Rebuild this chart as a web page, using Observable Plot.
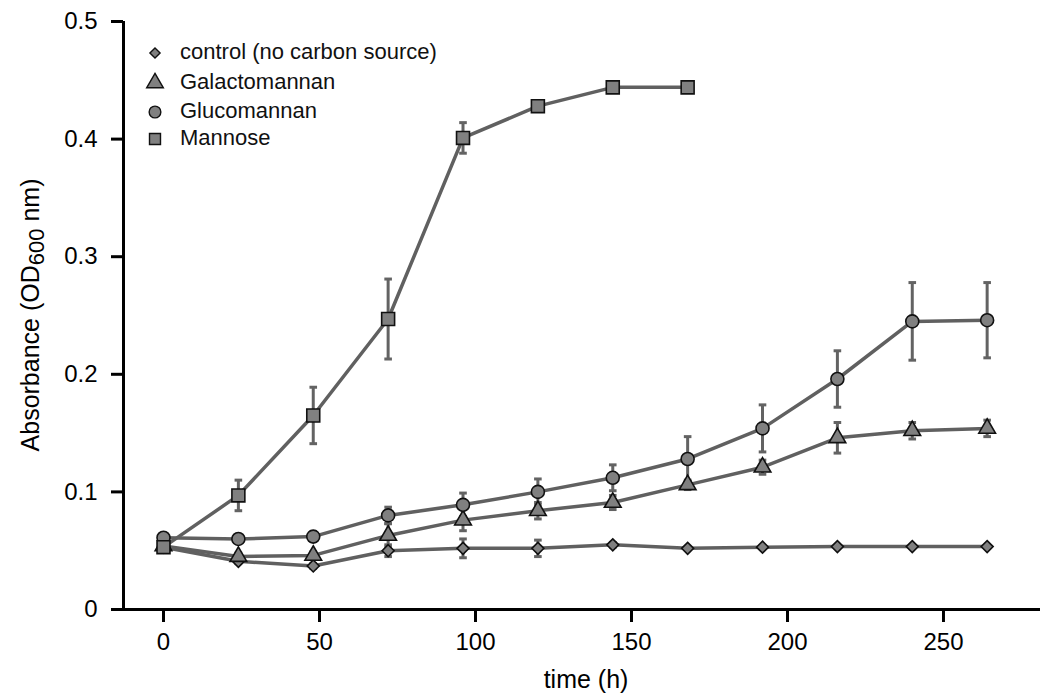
<!DOCTYPE html>
<html>
<head>
<meta charset="utf-8">
<script src="https://cdn.jsdelivr.net/npm/d3@7"></script>
<script src="https://cdn.jsdelivr.net/npm/@observablehq/plot@0.6"></script>
<style>
  html, body { margin: 0; padding: 0; background: #fff; }
  #wrap { position: relative; width: 1040px; height: 694px; font-family: "Liberation Sans", Arial, sans-serif; }
  .leg-item { position: absolute; font-size: 22px; line-height: 26px; height: 26px; color: #111; white-space: nowrap; }
  .leg-sym { position: absolute; width: 24px; height: 24px; }
</style>
</head>
<body>
<div id="wrap"></div>
<script>
// ---- data ----
const times = [0, 24, 48, 72, 96, 120, 144, 168, 192, 216, 240, 264];
const mannoseTimes = [0, 24, 48, 72, 96, 120, 144, 168];

const controlVals = [0.053, 0.041, 0.037, 0.050, 0.052, 0.052, 0.055, 0.052, 0.053, 0.0535, 0.0535, 0.0535];
const controlErr  = [0.002, 0.002, 0.002, 0.005, 0.008, 0.007, 0.002, 0.001, 0.001, 0.001, 0.001, 0.001];

const galactoVals = [0.054, 0.045, 0.046, 0.063, 0.076, 0.084, 0.091, 0.106, 0.121, 0.146, 0.152, 0.154];
const galactoErr  = [0.003, 0.003, 0.003, 0.010, 0.009, 0.007, 0.006, 0.004, 0.006, 0.013, 0.007, 0.007];

const glucoVals = [0.061, 0.060, 0.062, 0.080, 0.089, 0.100, 0.112, 0.128, 0.154, 0.196, 0.245, 0.246];
const glucoErr  = [0.002, 0.002, 0.004, 0.007, 0.010, 0.011, 0.011, 0.019, 0.020, 0.024, 0.033, 0.032];

const mannoseVals = [0.053, 0.097, 0.165, 0.247, 0.401, 0.428, 0.444, 0.444];
const mannoseErr  = [0.002, 0.013, 0.024, 0.034, 0.013, 0.003, 0.002, 0.002];

const seriesNames = ["control (no carbon source)", "Galactomannan", "Glucomannan", "Mannose"];
const seriesSymbols = ["diamond2", "triangle", "circle", "square"];
const seriesR = [5.4, 6.2, 6.5, 7.3];

const xTicks = [0, 50, 100, 150, 200, 250];
const yTicks = [0, 0.1, 0.2, 0.3, 0.4, 0.5];
const xDomain = [-12.82, 281.1];
const yDomain = [0, 0.5];

// ---- build table ----
function build(name, ts, vals, errs, i) {
  return ts.map((t, k) => ({series: name, idx: i, t, v: vals[k], e: errs[k]}));
}
const rows = [
  ...build(seriesNames[0], times, controlVals, controlErr, 0),
  ...build(seriesNames[1], times, galactoVals, galactoErr, 1),
  ...build(seriesNames[2], times, glucoVals, glucoErr, 2),
  ...build(seriesNames[3], mannoseTimes, mannoseVals, mannoseErr, 3)
];

const capSymbol = {
  draw(ctx, size) {
    const w = Math.sqrt(size / Math.PI);
    ctx.moveTo(-w, 0);
    ctx.lineTo(w, 0);
  }
};

const lineColor = "#606060";
const errColor = "#636363";
const fillColor = "#808080";
const edgeColor = "#111";

const marks = [
  Plot.axisX(xTicks, {tickSize: 13, tickPadding: 10, strokeWidth: 3, label: null, tickFormat: d3.format("~g")}),
  Plot.axisY(yTicks, {tickSize: 12, tickPadding: 14, strokeWidth: 3, label: null, tickFormat: d3.format("~g")}),
  Plot.ruleY([yDomain[0]], {stroke: "#000", strokeWidth: 3}),
  Plot.ruleX([xDomain[0]], {y1: yDomain[0], y2: yDomain[1], stroke: "#000", strokeWidth: 3}),
  Plot.line(rows, {x: "t", y: "v", z: "series", stroke: lineColor, strokeWidth: 3.5}),
  Plot.ruleX(rows, {x: "t", y1: d => d.v - d.e, y2: d => d.v + d.e, stroke: errColor, strokeWidth: 3}),
  Plot.dot(rows, {x: "t", y: d => d.v + d.e, symbol: capSymbol, r: 3.8, stroke: errColor, strokeWidth: 3, fill: "none"}),
  Plot.dot(rows, {x: "t", y: d => d.v - d.e, symbol: capSymbol, r: 3.8, stroke: errColor, strokeWidth: 3, fill: "none"})
];
seriesNames.forEach((name, i) => {
  marks.push(Plot.dot(rows.filter(d => d.idx === i), {
    x: "t", y: "v", symbol: seriesSymbols[i], r: seriesR[i],
    fill: fillColor, stroke: edgeColor, strokeWidth: 1.6
  }));
});

const chart = Plot.plot({
  width: 1040,
  height: 694,
  marginLeft: 123,
  marginRight: 0,
  marginTop: 21,
  marginBottom: 85,
  style: {fontFamily: "'Liberation Sans', Arial, sans-serif", fontSize: "24px", color: "#000", background: "#fff", overflow: "visible"},
  x: {domain: xDomain},
  y: {domain: yDomain},
  marks
});

const wrap = document.getElementById("wrap");
wrap.appendChild(chart);

// axis titles
const svg = d3.select(chart);
svg.append("text")
  .attr("x", 586).attr("y", 688)
  .attr("text-anchor", "middle")
  .attr("font-size", 25).attr("fill", "#000")
  .text("time (h)");

const yl = svg.append("text")
  .attr("transform", "translate(39,315) rotate(-90)")
  .attr("text-anchor", "middle")
  .attr("font-size", 25).attr("fill", "#000");
yl.append("tspan").text("Absorbance (OD");
yl.append("tspan").attr("font-size", 22).attr("dy", 5).text("600");
yl.append("tspan").attr("dy", -5).text(" nm)");

// legend (HTML overlay)
const legY = [53, 83, 112, 139];
seriesNames.forEach((name, i) => {
  const cy = legY[i];
  const s = document.createElementNS("http://www.w3.org/2000/svg", "svg");
  s.setAttribute("class", "leg-sym");
  s.setAttribute("viewBox", "-12 -12 24 24");
  s.style.left = (155 - 12) + "px";
  s.style.top = (cy - 12) + "px";
  const symType = {diamond2: d3.symbolDiamond2, triangle: d3.symbolTriangle, circle: d3.symbolCircle, square: d3.symbolSquare}[seriesSymbols[i]];
  const sizes = [0.85, 1, 0.9, 0.85];
  const r = seriesR[i] * sizes[i];
  const p = document.createElementNS("http://www.w3.org/2000/svg", "path");
  p.setAttribute("d", d3.symbol(symType, Math.PI * r * r)());
  p.setAttribute("fill", fillColor);
  p.setAttribute("stroke", edgeColor);
  p.setAttribute("stroke-width", 1.4);
  s.appendChild(p);
  wrap.appendChild(s);
  const t = document.createElement("div");
  t.className = "leg-item";
  t.style.left = "180px";
  t.style.top = (cy - 14) + "px";
  t.textContent = name;
  wrap.appendChild(t);
});
</script>
</body>
</html>
